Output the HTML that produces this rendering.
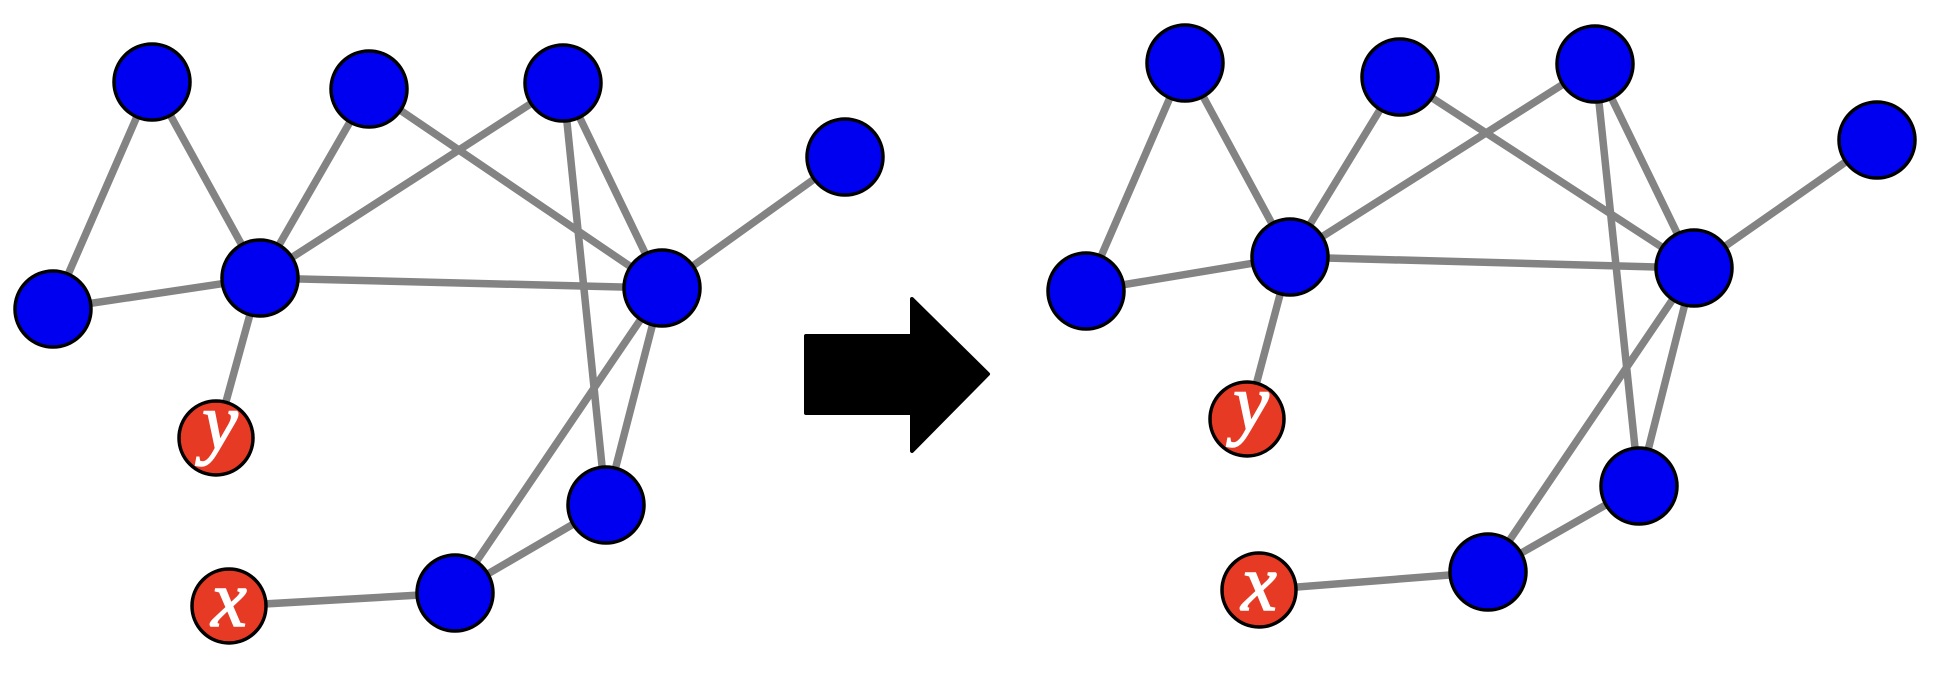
<!DOCTYPE html>
<html><head><meta charset="utf-8"><style>html,body{margin:0;padding:0;background:#fff}svg{display:block}</style></head>
<body>
<svg width="1940" height="674" viewBox="0 0 1940 674" xmlns="http://www.w3.org/2000/svg">
<g stroke="#838383" stroke-width="7.5" stroke-linecap="round">
<!-- left -->
<line x1="152" y1="82" x2="53" y2="309"/>
<line x1="152" y1="82" x2="260" y2="278"/>
<line x1="369" y1="89" x2="260" y2="278"/>
<line x1="563" y1="83" x2="260" y2="278"/>
<line x1="369" y1="89" x2="662" y2="288"/>
<line x1="563" y1="83" x2="662" y2="288"/>
<line x1="563" y1="83" x2="606" y2="505"/>
<line x1="53" y1="309" x2="260" y2="278"/>
<line x1="260" y1="278" x2="662" y2="288"/>
<line x1="260" y1="278" x2="216" y2="438"/>
<line x1="845" y1="157" x2="662" y2="288"/>
<line x1="662" y1="288" x2="455" y2="593"/>
<line x1="662" y1="288" x2="606" y2="505"/>
<line x1="606" y1="505" x2="455" y2="593"/>
<line x1="229" y1="606" x2="455" y2="593"/>
<!-- right -->
<line x1="1185" y1="63" x2="1086" y2="291"/>
<line x1="1185" y1="63" x2="1290" y2="257"/>
<line x1="1400" y1="77" x2="1290" y2="257"/>
<line x1="1595" y1="64" x2="1290" y2="257"/>
<line x1="1400" y1="77" x2="1694" y2="268"/>
<line x1="1595" y1="64" x2="1694" y2="268"/>
<line x1="1595" y1="64" x2="1639" y2="486"/>
<line x1="1086" y1="291" x2="1290" y2="257"/>
<line x1="1290" y1="257" x2="1694" y2="268"/>
<line x1="1290" y1="257" x2="1247" y2="419"/>
<line x1="1877" y1="140" x2="1694" y2="268"/>
<line x1="1694" y1="268" x2="1488" y2="572"/>
<line x1="1694" y1="268" x2="1639" y2="486"/>
<line x1="1639" y1="486" x2="1488" y2="572"/>
<line x1="1259" y1="590" x2="1488" y2="572"/>
</g>
<g fill="#0000f0" stroke="#000" stroke-width="3.5">
<ellipse cx="152" cy="82" rx="38" ry="38"/>
<ellipse cx="369" cy="89" rx="38" ry="38"/>
<ellipse cx="563" cy="83" rx="38" ry="38"/>
<ellipse cx="845" cy="157" rx="38" ry="38"/>
<ellipse cx="53" cy="309" rx="38" ry="38"/>
<ellipse cx="260" cy="278" rx="38" ry="38"/>
<ellipse cx="662" cy="288" rx="38" ry="38"/>
<ellipse cx="606" cy="505" rx="38" ry="38"/>
<ellipse cx="455" cy="593" rx="38" ry="38"/>
<ellipse cx="1185" cy="63" rx="38" ry="38"/>
<ellipse cx="1400" cy="77" rx="38" ry="38"/>
<ellipse cx="1595" cy="64" rx="38" ry="38"/>
<ellipse cx="1877" cy="140" rx="38" ry="38"/>
<ellipse cx="1086" cy="291" rx="38" ry="38"/>
<ellipse cx="1290" cy="257" rx="38" ry="38"/>
<ellipse cx="1694" cy="268" rx="38" ry="38"/>
<ellipse cx="1639" cy="486" rx="38" ry="38"/>
<ellipse cx="1488" cy="572" rx="38" ry="38"/>
</g>
<g fill="#e63a24" stroke="#000" stroke-width="3.5">
<ellipse cx="216" cy="438" rx="37" ry="37"/>
<ellipse cx="229" cy="606" rx="37" ry="37"/>
<ellipse cx="1247" cy="419" rx="37" ry="37"/>
<ellipse cx="1259" cy="590" rx="37" ry="37"/>
</g>
<g fill="#fff" stroke="#fff" stroke-width="1.5" font-family="Liberation Serif, serif" font-style="italic" font-size="80" text-anchor="middle">
<text x="220" y="449">y</text>
<text x="229" y="626">x</text>
<text x="1251" y="430">y</text>
<text x="1259" y="610">x</text>
</g>
<path d="M806 336 L912 336 L912 299 L988 374 L912 451 L912 413 L806 413 Z" fill="#000" stroke="#000" stroke-width="4" stroke-linejoin="round"/>
</svg>
</body></html>
